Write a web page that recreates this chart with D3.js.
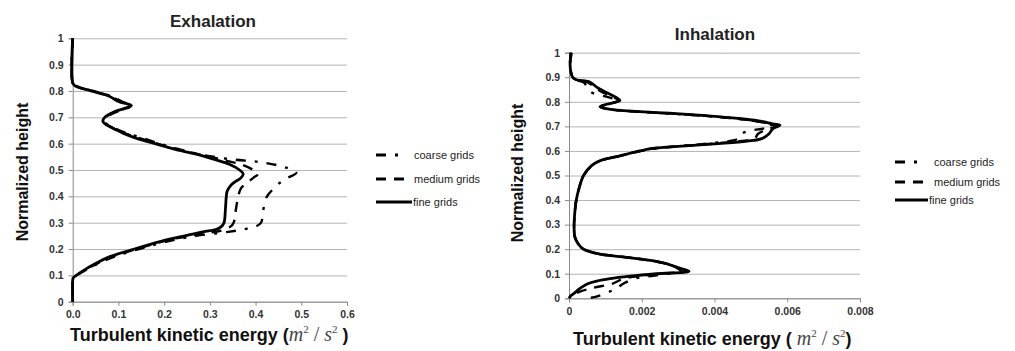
<!DOCTYPE html>
<html>
<head>
<meta charset="utf-8">
<script src="https://cdn.jsdelivr.net/npm/d3@7"></script>
<style>
  body { margin: 0; background: #fff; }
  svg { display: block; }
</style>
</head>
<body>
<svg width="1015" height="351"></svg>
<script>
// data: [normalized height, turbulent kinetic energy]
const heightTicks = [0, 0.1, 0.2, 0.3, 0.4, 0.5, 0.6, 0.7, 0.8, 0.9, 1];
const exhTicks = [0, 0.1, 0.2, 0.3, 0.4, 0.5, 0.6];
const inhTicks = [0, 0.002, 0.004, 0.006, 0.008];
const gridNames = ["coarse grids", "medium grids", "fine grids"];

const exhCoarse = [[1,0],[0.83,0],[0.82,0.006],[0.8,0.045],[0.78,0.085],[0.76,0.108],[0.745,0.13],[0.735,0.12],[0.72,0.095],[0.7,0.075],[0.68,0.072],[0.66,0.09],[0.64,0.118],[0.62,0.155],[0.6,0.19],[0.58,0.23],[0.56,0.275],[0.54,0.35],[0.53,0.41],[0.51,0.465],[0.49,0.489],[0.47,0.47],[0.45,0.452],[0.43,0.44],[0.4,0.425],[0.35,0.417],[0.3,0.412],[0.285,0.4],[0.275,0.375],[0.265,0.34],[0.25,0.27],[0.23,0.21],[0.2,0.145],[0.17,0.09],[0.14,0.05],[0.12,0.028],[0.1,0.009],[0.09,0.002],[0.08,0],[0,0]];
const exhMedium = [[1,0],[0.83,0],[0.82,0.005],[0.8,0.042],[0.78,0.083],[0.76,0.105],[0.745,0.128],[0.735,0.118],[0.72,0.09],[0.7,0.072],[0.68,0.07],[0.66,0.088],[0.64,0.113],[0.62,0.148],[0.6,0.185],[0.58,0.225],[0.56,0.275],[0.54,0.325],[0.52,0.37],[0.5,0.395],[0.485,0.405],[0.47,0.395],[0.45,0.38],[0.43,0.368],[0.4,0.362],[0.35,0.357],[0.3,0.352],[0.285,0.345],[0.27,0.325],[0.26,0.29],[0.25,0.255],[0.23,0.2],[0.2,0.14],[0.17,0.085],[0.14,0.048],[0.12,0.026],[0.1,0.008],[0.09,0.002],[0.08,0],[0,0]];
const exhFine = [[1,0],[0.83,0],[0.82,0.005],[0.8,0.04],[0.78,0.08],[0.76,0.1],[0.745,0.128],[0.735,0.115],[0.72,0.09],[0.7,0.07],[0.685,0.066],[0.67,0.075],[0.655,0.092],[0.64,0.11],[0.62,0.14],[0.6,0.18],[0.58,0.22],[0.56,0.27],[0.54,0.31],[0.52,0.345],[0.5,0.365],[0.485,0.373],[0.47,0.368],[0.455,0.355],[0.44,0.345],[0.42,0.338],[0.4,0.336],[0.35,0.334],[0.3,0.331],[0.285,0.325],[0.275,0.315],[0.265,0.285],[0.25,0.245],[0.23,0.195],[0.2,0.135],[0.17,0.08],[0.14,0.045],[0.12,0.025],[0.1,0.008],[0.09,0.001],[0.08,0],[0,0]];

const inhCoarse = [[1,0.00005],[0.95,0.00003],[0.9,0.0001],[0.89,0.00018],[0.88,0.0004],[0.86,0.0005],[0.84,0.0006],[0.82,0.00105],[0.805,0.00135],[0.79,0.00105],[0.78,0.00088],[0.77,0.0011],[0.76,0.0019],[0.75,0.003],[0.74,0.004],[0.73,0.0047],[0.72,0.0052],[0.71,0.0055],[0.7,0.0056],[0.69,0.0053],[0.68,0.0049],[0.665,0.0047],[0.65,0.00465],[0.64,0.0044],[0.63,0.0038],[0.62,0.0031],[0.61,0.0024],[0.6,0.002],[0.58,0.0014],[0.56,0.00085],[0.54,0.00062],[0.5,0.0004],[0.45,0.00028],[0.4,0.0002],[0.35,0.00016],[0.3,0.00014],[0.25,0.00016],[0.22,0.00026],[0.2,0.0004],[0.18,0.00085],[0.17,0.0014],[0.16,0.00195],[0.15,0.0024],[0.14,0.0027],[0.13,0.0029],[0.12,0.0031],[0.11,0.0032],[0.1,0.0027],[0.09,0.0022],[0.08,0.0018],[0.06,0.0015],[0.04,0.0013],[0.02,0.001],[0.005,0.0007],[0,0.0005]];
const inhMedium = [[1,0.00005],[0.95,0.00003],[0.9,0.0001],[0.89,0.0002],[0.88,0.0005],[0.86,0.0007],[0.84,0.0009],[0.82,0.0012],[0.805,0.00135],[0.79,0.00103],[0.78,0.00086],[0.77,0.0011],[0.76,0.0019],[0.75,0.0031],[0.74,0.004],[0.73,0.0047],[0.72,0.0052],[0.71,0.0055],[0.7,0.0057],[0.69,0.0055],[0.67,0.0052],[0.65,0.0051],[0.64,0.0047],[0.63,0.004],[0.62,0.0031],[0.61,0.0023],[0.6,0.00195],[0.58,0.0014],[0.56,0.00085],[0.54,0.00062],[0.5,0.0004],[0.45,0.00028],[0.4,0.0002],[0.35,0.00016],[0.3,0.00014],[0.25,0.00016],[0.22,0.00026],[0.2,0.0004],[0.18,0.00085],[0.17,0.0014],[0.16,0.00195],[0.15,0.0024],[0.14,0.0027],[0.13,0.0029],[0.12,0.003],[0.11,0.0031],[0.1,0.0025],[0.09,0.0019],[0.08,0.0015],[0.06,0.0012],[0.04,0.0006],[0.02,0.0002],[0,0.0001]];
const inhFine = [[1,0.00007],[0.95,0.00003],[0.9,0.0001],[0.89,0.0002],[0.88,0.00058],[0.86,0.00076],[0.84,0.001],[0.82,0.00127],[0.805,0.0014],[0.79,0.00104],[0.78,0.00085],[0.77,0.0011],[0.76,0.00195],[0.75,0.00315],[0.74,0.0041],[0.73,0.0048],[0.72,0.0053],[0.71,0.0056],[0.705,0.0058],[0.69,0.0056],[0.67,0.0055],[0.65,0.0053],[0.64,0.0049],[0.63,0.0041],[0.62,0.0031],[0.61,0.0023],[0.6,0.00195],[0.58,0.0014],[0.56,0.00085],[0.54,0.00062],[0.5,0.0004],[0.45,0.00028],[0.4,0.0002],[0.35,0.00016],[0.3,0.00014],[0.25,0.00016],[0.22,0.00026],[0.2,0.0004],[0.18,0.00085],[0.17,0.0014],[0.16,0.00195],[0.15,0.0024],[0.14,0.0027],[0.13,0.0029],[0.12,0.0031],[0.11,0.0033],[0.1,0.0024],[0.09,0.00168],[0.08,0.00113],[0.07,0.00076],[0.06,0.00053],[0.04,0.0003],[0.02,0.00014],[0.01,0.00005],[0,0]];

const dashes = ["10,9,3,9", "10,8", null];
const svg = d3.select("svg");
const sans = "Liberation Sans, Arial";
const serif = "Liberation Serif, Times New Roman";

function drawPanel(p) {
  const x = d3.scaleLinear().domain([p.xTicks[0], p.xTicks[p.xTicks.length - 1]]).range([p.left, p.right]);
  const y = d3.scaleLinear().domain([0, 1]).range([p.bottom, p.top]);
  const g = svg.append("g");

  // gridlines
  g.append("g").attr("transform", `translate(${p.left},0)`)
    .call(d3.axisLeft(y).tickValues(heightTicks).tickSize(-(p.right - p.left)).tickFormat(""))
    .call(a => a.select(".domain").remove())
    .call(a => a.selectAll("line").attr("stroke", "#b4b4b4"));

  // y axis
  g.append("g").attr("transform", `translate(${p.left},0)`)
    .call(d3.axisLeft(y).tickValues(heightTicks).tickSize(4).tickPadding(5).tickFormat(d3.format("")))
    .call(a => a.select(".domain").attr("stroke", "#8a8a8a"))
    .call(a => a.selectAll("line").attr("stroke", "#8a8a8a"))
    .call(a => a.selectAll("text").attr("font-family", sans).attr("font-weight", "bold").attr("font-size", 10.5).attr("fill", "#333"));

  // x axis
  g.append("g").attr("transform", `translate(0,${p.bottom})`)
    .call(d3.axisBottom(x).tickValues(p.xTicks).tickSize(4).tickPadding(5).tickFormat(p.fmt))
    .call(a => a.select(".domain").attr("stroke", "#8a8a8a"))
    .call(a => a.selectAll("line").attr("stroke", "#8a8a8a"))
    .call(a => a.selectAll("text").attr("font-family", sans).attr("font-weight", "bold").attr("font-size", 10.5).attr("fill", "#333"));

  const line = d3.line().x(d => x(d[1])).y(d => y(d[0])).curve(d3.curveCatmullRom.alpha(0.5));
  p.series.forEach((s, i) => {
    g.append("path").datum(s)
      .attr("d", line)
      .attr("fill", "none")
      .attr("stroke", "#000")
      .attr("stroke-width", i === 2 ? 2.8 : 2.4)
      .attr("stroke-dasharray", dashes[i]);
  });

  // title
  g.append("text").attr("x", p.titleX).attr("y", p.titleY)
    .attr("text-anchor", "middle").attr("font-family", sans)
    .attr("font-weight", "bold").attr("font-size", 17).attr("fill", "#222").text(p.title);

  // y label
  g.append("text").attr("transform", `translate(${p.yLabX},${p.yLabY}) rotate(-90)`)
    .attr("text-anchor", "middle").attr("font-family", sans)
    .attr("font-weight", "bold").attr("font-size", 16).attr("fill", "#111").text("Normalized height");

  // x label
  const xt = g.append("text").attr("x", p.xLabX).attr("y", p.xLabY)
    .attr("font-family", sans).attr("font-weight", "bold")
    .attr("font-size", 18).attr("fill", "#111");
  xt.append("tspan").text(p.xLabPre);
  xt.append("tspan").attr("font-family", serif).attr("font-style", "italic").attr("font-weight", "normal").attr("font-size", 20).attr("fill", "#444").text("m");
  xt.append("tspan").attr("font-family", serif).attr("font-weight", "normal").attr("font-size", 11).attr("fill", "#444").attr("dy", -8).text("2");
  xt.append("tspan").attr("font-family", serif).attr("font-weight", "normal").attr("font-size", 20).attr("fill", "#444").attr("dy", 8).text(" / ");
  xt.append("tspan").attr("font-family", serif).attr("font-style", "italic").attr("font-weight", "normal").attr("font-size", 20).attr("fill", "#444").text("s");
  xt.append("tspan").attr("font-family", serif).attr("font-weight", "normal").attr("font-size", 11).attr("fill", "#444").attr("dy", -8).text("2");
  xt.append("tspan").attr("dy", 8).text(p.xLabPost);

  // legend
  p.legendY.forEach((ly, i) => {
    g.append("line").attr("x1", p.legX).attr("x2", p.legX + p.legW[i]).attr("y1", ly).attr("y2", ly)
      .attr("stroke", "#000").attr("stroke-width", 2.8).attr("stroke-dasharray", dashes[i]);
    g.append("text").attr("x", p.legText[i]).attr("y", ly + 4)
      .attr("font-family", sans).attr("font-size", 11).attr("fill", "#222")
      .text(gridNames[i]);
  });
}

drawPanel({
  left: 72.7, right: 347, top: 38.3, bottom: 301.7,
  xTicks: exhTicks, fmt: d3.format(".1f"),
  series: [exhCoarse, exhMedium, exhFine],
  title: "Exhalation", titleX: 213, titleY: 27,
  yLabX: 28, yLabY: 172,
  xLabX: 70, xLabY: 341, xLabPre: "Turbulent  kinetic energy (", xLabPost: " )",
  legendY: [155, 179, 202], legX: 376, legW: [23, 31, 36], legText: [414, 414, 413]
});

drawPanel({
  left: 569, right: 860, top: 52.7, bottom: 298.3,
  xTicks: inhTicks, fmt: d => d === 0 ? "0" : d3.format(".3f")(d),
  series: [inhCoarse, inhMedium, inhFine],
  title: "Inhalation", titleX: 715, titleY: 40,
  yLabX: 523, yLabY: 173,
  xLabX: 573, xLabY: 345, xLabPre: "Turbulent  kinetic energy ( ", xLabPost: ")",
  legendY: [162, 182, 200], legX: 895, legW: [23, 32, 33], legText: [934, 934, 929]
});
</script>
</body>
</html>
